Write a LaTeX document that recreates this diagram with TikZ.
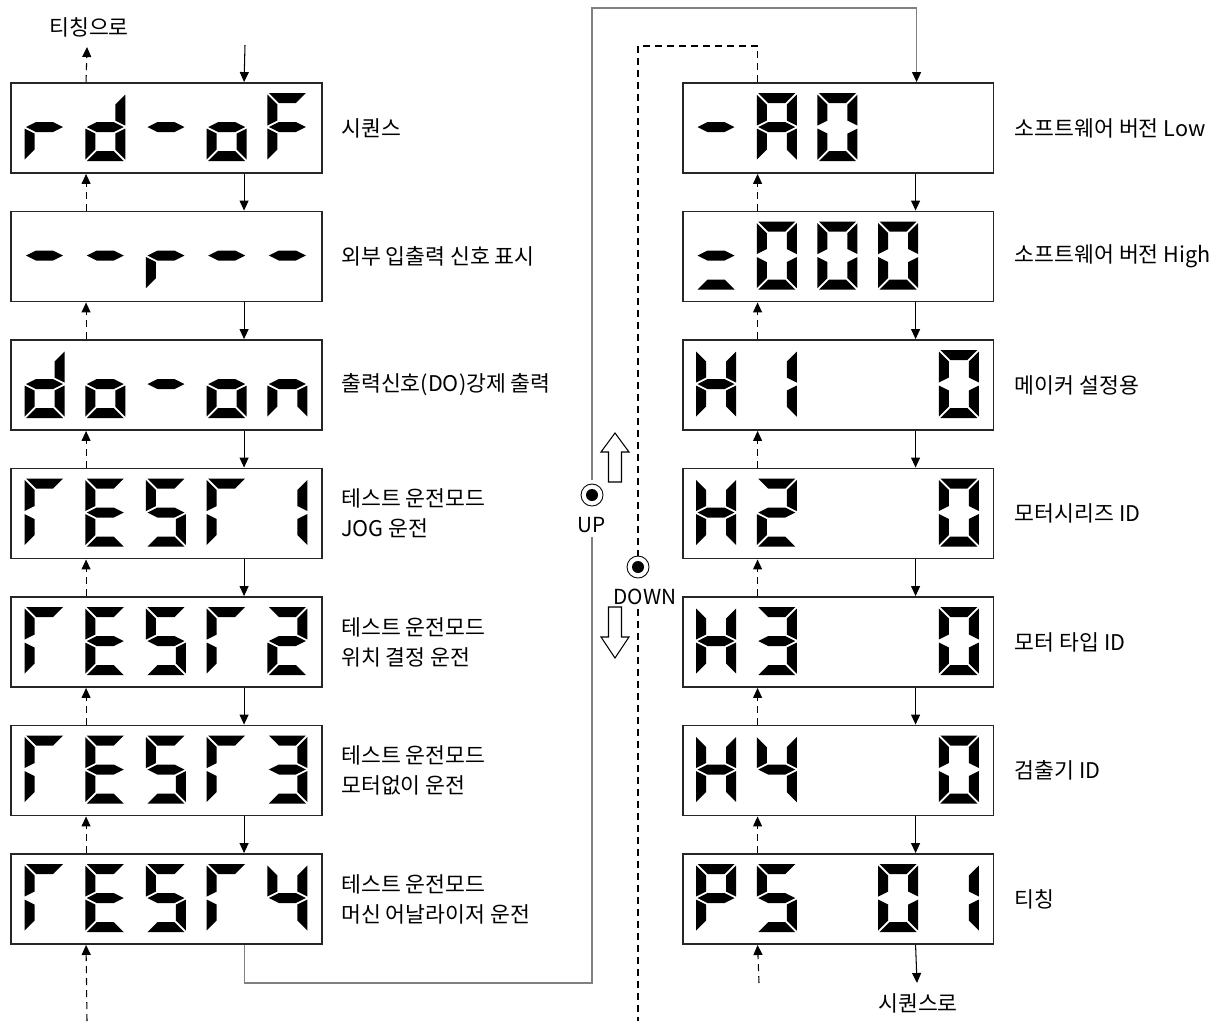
\documentclass[tikz,border=0pt]{standalone}
\usepackage{fontspec}
\setmainfont{Noto Sans CJK KR}
\usetikzlibrary{arrows.meta,calc,positioning}

% segment outlines of one digit cell (40 x 68)
\def\dsega{(1.5,0) -- (38.5,0) -- (28.5,10) -- (11.5,10) -- cycle}
\def\dsegb{(40,1.5) -- (30,11.5) -- (30,27.5) -- (40,32.5) -- cycle}
\def\dsegc{(40,35.5) -- (30,40.5) -- (30,56.5) -- (40,66.5) -- cycle}
\def\dsegd{(11.5,58) -- (28.5,58) -- (38.5,68) -- (1.5,68) -- cycle}
\def\dsege{(0,35.5) -- (10,40.5) -- (10,56.5) -- (0,66.5) -- cycle}
\def\dsegf{(0,1.5) -- (10,11.5) -- (10,27.5) -- (0,32.5) -- cycle}
\def\dsegg{(1.5,34) -- (11.5,29) -- (28.5,29) -- (38.5,34) -- (28.5,39) -- (11.5,39) -- cycle}

\pgfkeys{/glyph/.cd,
  r/.initial={e,g}, d/.initial={b,c,d,e,g}, m/.initial={g}, o/.initial={c,d,e,g},
  F/.initial={a,e,f,g}, n/.initial={c,e,g}, T/.initial={a,e,f},
  E/.initial={a,d,e,f,g}, S/.initial={a,c,d,f,g}, 1/.initial={b,c},
  2/.initial={a,b,d,e,g}, 3/.initial={a,b,c,d,g}, 4/.initial={b,c,f,g},
  A/.initial={a,b,c,e,f,g}, 0/.initial={a,b,c,d,e,f}, eq/.initial={d,g},
  H/.initial={b,c,e,f,g}, P/.initial={a,b,e,f,g}}

\newcommand\segglyph[3]{% box, cell, glyph
  \begin{scope}[shift={($(#1.north west)+({14.5+60.7*(#2-1)},11)$)}]
    \pgfkeysgetvalue{/glyph/#3}\seglist
    \foreach \s in \seglist {\fill[segment] \csname dseg\s\endcsname;}
  \end{scope}}

\tikzset{
  display/.style={
    draw=black!85,
    line width=1.1pt,
    minimum width=6.22cm,
    minimum height=1.8cm,
    inner sep=0
  },
  segment/.style={fill=black},
  note/.style={
    inner sep=0,
    align=left,
    font=\fontsize{12.3}{17}\selectfont
  },
  btnlabel/.style={inner sep=2pt, font=\fontsize{11.8}{14}\selectfont},
  flow/.style={-{Triangle[length=0.2cm,width=0.18cm]}, line width=0.6pt},
  back/.style={flow, dash pattern=on 0.14cm off 0.1cm},
  dashline/.style={line width=0.6pt, dash pattern=on 0.14cm off 0.1cm},
  loopline/.style={line width=0.6pt, black!50},
  button/.style={
    circle, draw, line width=0.5pt,
    minimum size=0.44cm, inner sep=0,
    path picture={\fill (path picture bounding box.center) circle (0.12cm);}
  },
  hollow/.style={draw, line width=0.6pt, fill=white}
}

\begin{document}
\begin{tikzpicture}[x=0.02cm, y=-0.02cm]
  \useasboundingbox (0,0) rectangle (1226,1021);

  % left column
  \foreach \txt/\cells [count=\i] in {
      {시퀀스}/{1/r,2/d,3/m,4/o,5/F},
      {외부 입출력 신호 표시}/{1/m,2/m,3/r,4/m,5/m},
      {출력신호(DO)강제 출력}/{1/d,2/o,3/m,4/o,5/n},
      {테스트 운전모드\\JOG 운전}/{1/T,2/E,3/S,4/T,5/1},
      {테스트 운전모드\\위치 결정 운전}/{1/T,2/E,3/S,4/T,5/2},
      {테스트 운전모드\\모터없이 운전}/{1/T,2/E,3/S,4/T,5/3},
      {테스트 운전모드\\머신 어날라이저 운전}/{1/T,2/E,3/S,4/T,5/4}}{
    \node[display] (l\i) at (166.5,{128+128.5*(\i-1)}) {};
    \node[note, right=0.36cm of l\i] (lt\i) {\txt};
    \foreach \k/\g in \cells {\segglyph{l\i}{\k}{\g}}
  }

  % right column
  \foreach \txt/\cells [count=\i] in {
      {소프트웨어 버전 Low}/{1/m,2/A,3/0},
      {소프트웨어 버전 High}/{1/eq,2/0,3/0,4/0},
      {메이커 설정용}/{1/H,2/1,5/0},
      {모터시리즈 ID}/{1/H,2/2,5/0},
      {모터 타입 ID}/{1/H,2/3,5/0},
      {검출기 ID}/{1/H,2/4,5/0},
      {티칭}/{1/P,2/S,4/0,5/1}}{
    \node[display] (r\i) at (838,{128+128.5*(\i-1)}) {};
    \node[note, right=0.4cm of r\i] (rt\i) {\txt};
    \foreach \k/\g in \cells {\segglyph{r\i}{\k}{\g}}
  }

  \foreach \c in {l,r}{
    \foreach \i [evaluate=\i as \j using int(\i+1)] in {1,...,6}{
      \draw[flow] ($(\c\i.south west)+(234,0)$) -- ($(\c\j.north west)+(234,0)$);
      \draw[back] ($(\c\j.north west)+(76,0)$) -- ($(\c\i.south west)+(76,0)$);
    }
  }

  % ends of the two columns
  \node[note] (toteach) at (89,27) {티칭으로};
  \coordinate (teachout) at (87,47);
  \coordinate (seqin) at (245,45);
  \coordinate (teachin) at (87,1021);
  \draw[back] ($(l1.north west)+(76,0)$) -- (teachout);
  \draw[flow] (seqin) -- ($(l1.north west)+(234,0)$);
  \draw[back] (teachin) -- ($(l7.south west)+(76,0)$);

  \node[note] (toseq) at (918,1003) {시퀀스로};
  \coordinate (seqout) at (917,983);
  \coordinate (backin) at (759,983);
  \draw[flow] ($(r7.south west)+(234,0)$) -- (seqout);
  \draw[back] (backin) -- ($(r7.south west)+(76,0)$);

  % buttons
  \node[button] (up) at (592,495) {};
  \node[btnlabel] (uplbl) at (592,525) {UP};
  \node[button] (down) at (638,567) {};
  \node[btnlabel] (downlbl) at (645,597) {DOWN};
  \draw[hollow] (615,433) -- (629,452) -- (621.5,452) -- (621.5,482) -- (608.5,482)
    -- (608.5,452) -- (601,452) -- cycle;
  \draw[hollow] (615,658) -- (629,637) -- (621.5,637) -- (621.5,607) -- (608.5,607)
    -- (608.5,637) -- (601,637) -- cycle;

  % UP loop
  \coordinate (loopbl) at (592,983);
  \coordinate (looptl) at (592,8);
  \draw[loopline] ($(l7.south west)+(234,0)$) |- (loopbl) -- (uplbl.south);
  \draw[loopline, -{Triangle[length=0.2cm,width=0.18cm,black]}, shorten <=2pt]
    (up.north) -- (looptl) -| ($(r1.north west)+(235,0)$);

  % DOWN loop
  \coordinate (dashtl) at (638,46);
  \coordinate (dashbot) at (638,1021);
  \draw[dashline] ($(r1.north west)+(76,0)$) |- (dashtl) -- (down.north);
  \draw[dashline] (downlbl.south -| down) -- (dashbot);
\end{tikzpicture}
\end{document}
